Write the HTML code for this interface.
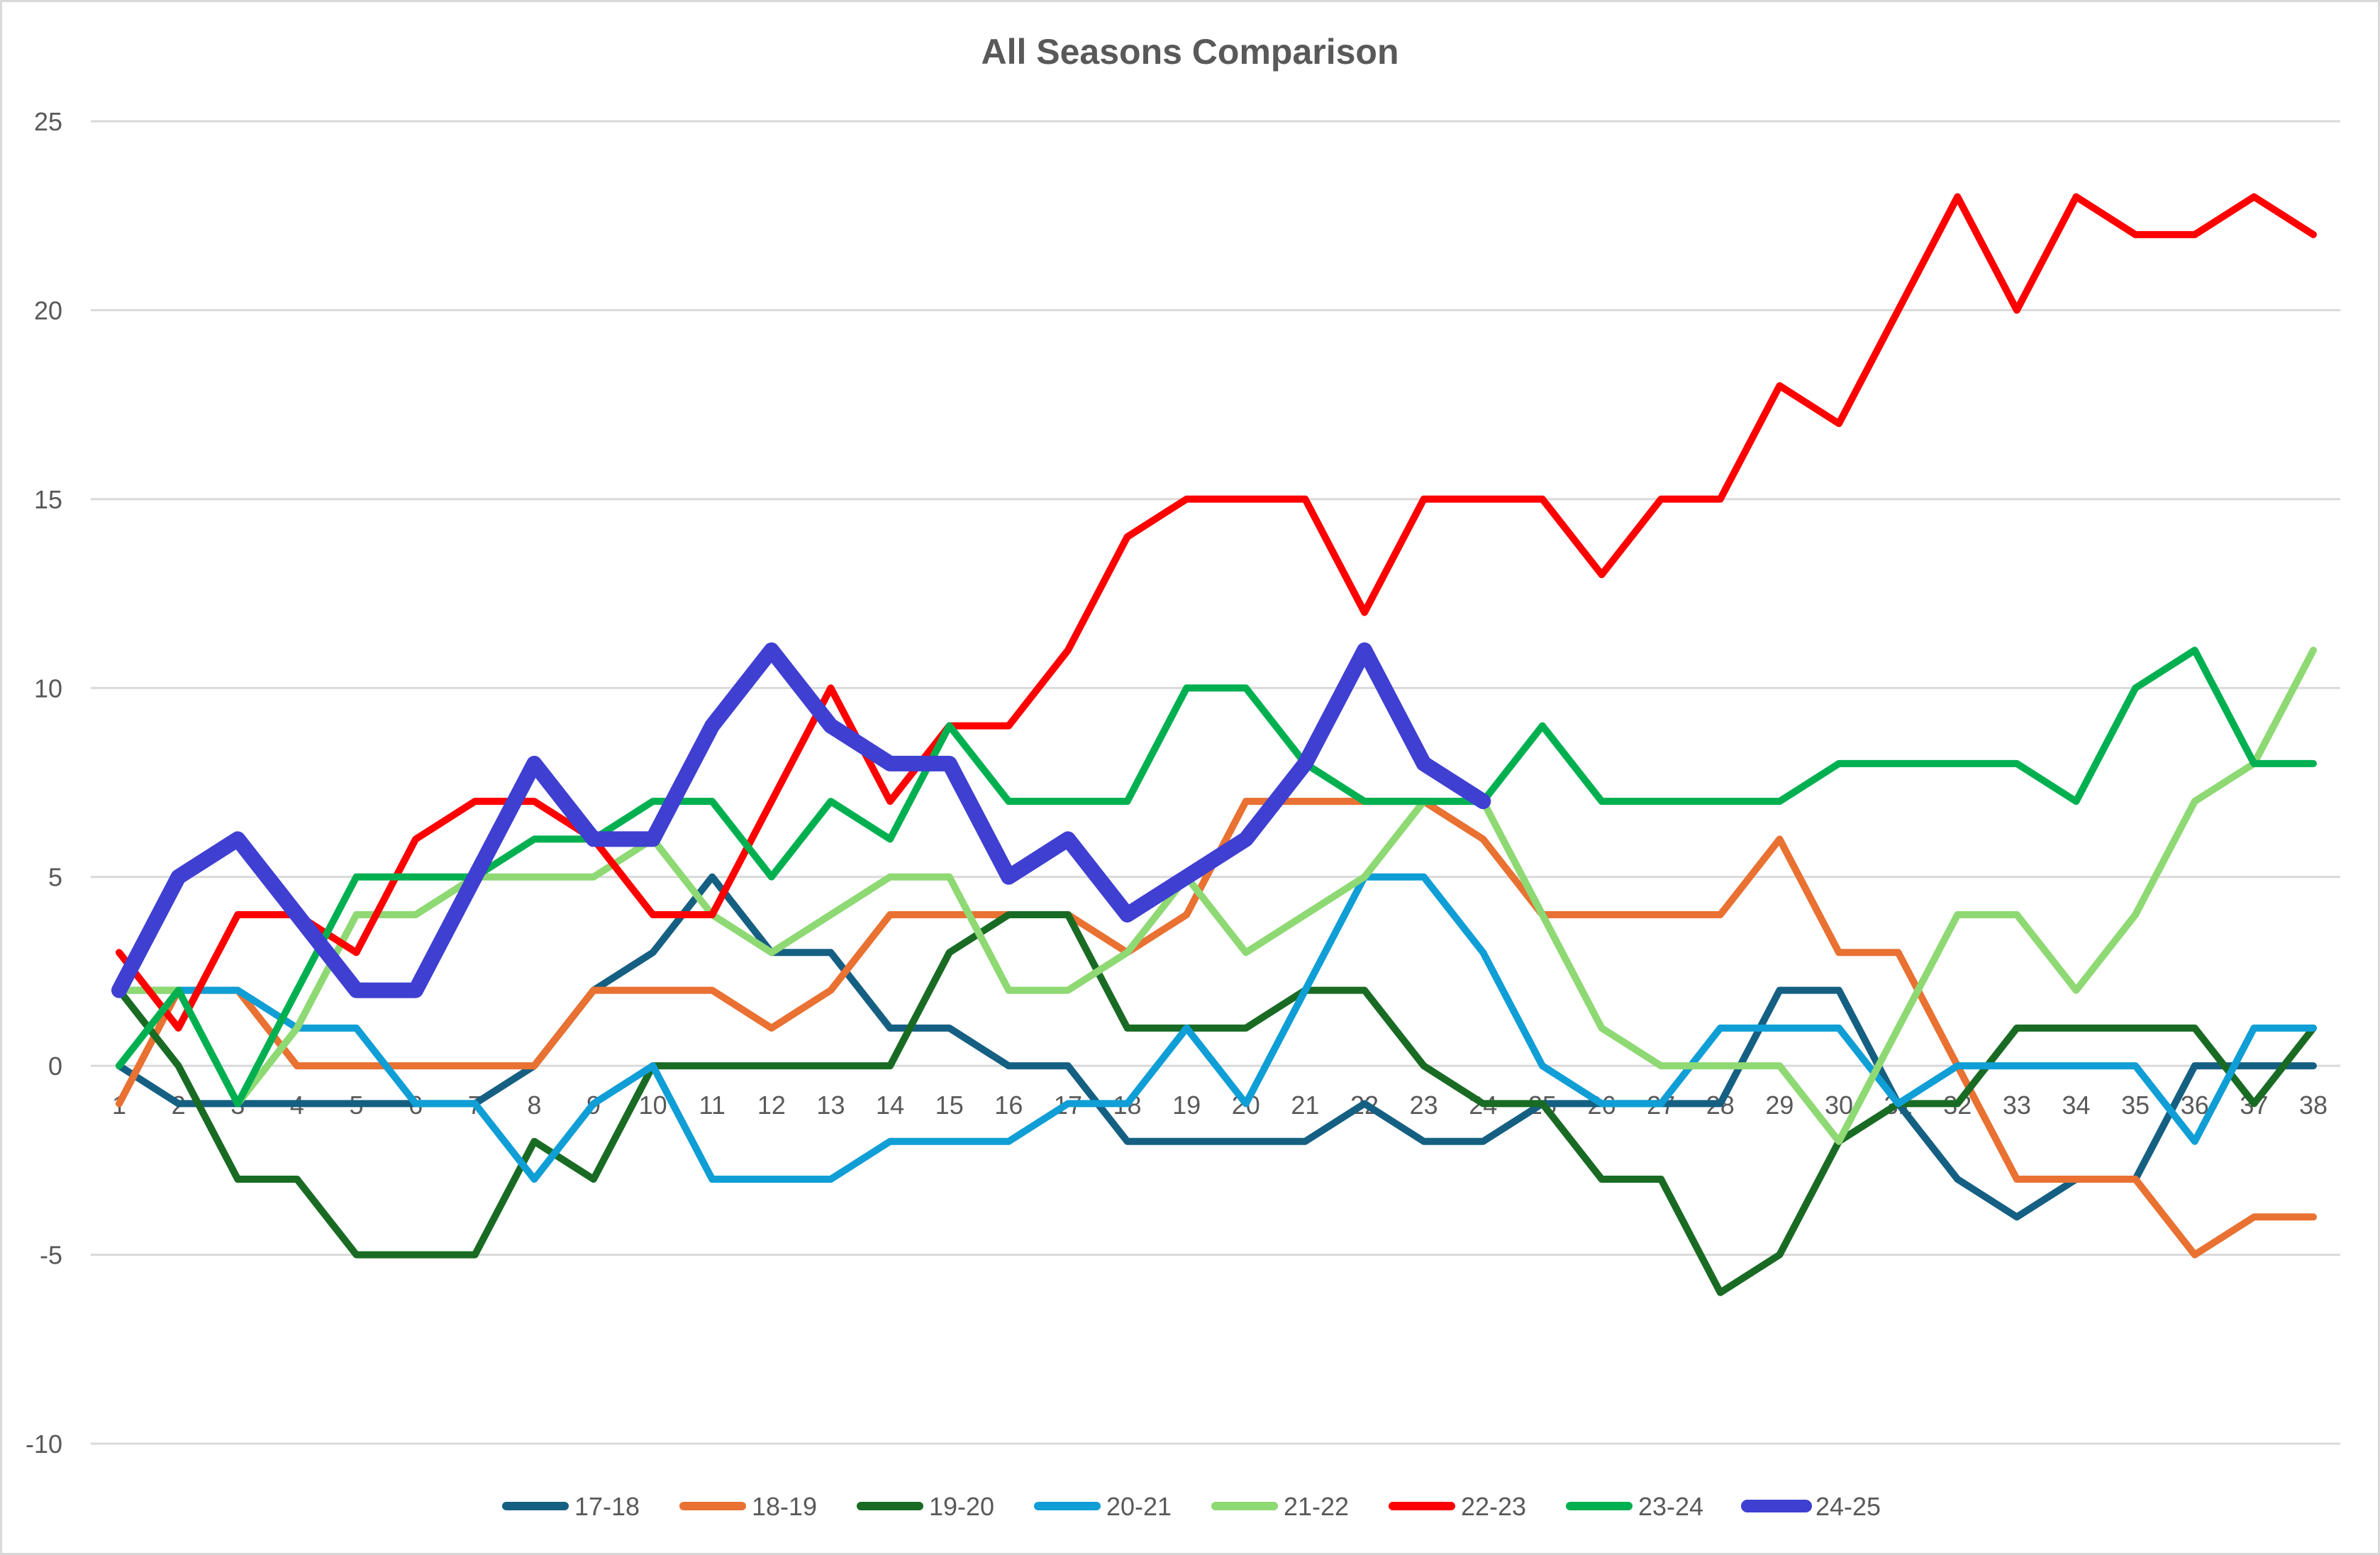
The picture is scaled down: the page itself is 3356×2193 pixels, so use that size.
<!DOCTYPE html>
<html><head><meta charset="utf-8"><style>
html,body{margin:0;padding:0;background:#fff}
svg{display:block;font-family:"Liberation Sans",Arial,sans-serif}
</style></head><body>
<svg id="chart" width="3356" height="2193" viewBox="0 0 3356 2193" xmlns="http://www.w3.org/2000/svg">
<rect x="1.5" y="1.5" width="3353" height="2190" fill="#fff" stroke="#d9d9d9" stroke-width="3"/>
<text x="1678" y="90" text-anchor="middle" font-size="50" font-weight="bold" fill="#595959">All Seasons Comparison</text>
<g id="grid"></g><g id="ylabels"></g><g id="xlabels"></g><g id="series"></g><g id="legend"></g>
</svg>
<script>
const categories=[1,2,3,4,5,6,7,8,9,10,11,12,13,14,15,16,17,18,19,20,21,22,23,24,25,26,27,28,29,30,31,32,33,34,35,36,37,38];
const yTicks=[-10,-5,0,5,10,15,20,25];
const seriesNames=["17-18","18-19","19-20","20-21","21-22","22-23","23-24","24-25"];
const s1718=[0,-1,-1,-1,-1,-1,-1,0,2,3,5,3,3,1,1,0,0,-2,-2,-2,-2,-1,-2,-2,-1,-1,-1,-1,2,2,-1,-3,-4,-3,-3,0,0,0];
const s1819=[-1,2,2,0,0,0,0,0,2,2,2,1,2,4,4,4,4,3,4,7,7,7,7,6,4,4,4,4,6,3,3,0,-3,-3,-3,-5,-4,-4];
const s1920=[2,0,-3,-3,-5,-5,-5,-2,-3,0,0,0,0,0,3,4,4,1,1,1,2,2,0,-1,-1,-3,-3,-6,-5,-2,-1,-1,1,1,1,1,-1,1];
const s2021=[2,2,2,1,1,-1,-1,-3,-1,0,-3,-3,-3,-2,-2,-2,-1,-1,1,-1,2,5,5,3,0,-1,-1,1,1,1,-1,0,0,0,0,-2,1,1];
const s2122=[2,2,-1,1,4,4,5,5,5,6,4,3,4,5,5,2,2,3,5,3,4,5,7,7,4,1,0,0,0,-2,1,4,4,2,4,7,8,11];
const s2223=[3,1,4,4,3,6,7,7,6,4,4,7,10,7,9,9,11,14,15,15,15,12,15,15,15,13,15,15,18,17,20,23,20,23,22,22,23,22];
const s2324=[0,2,-1,2,5,5,5,6,6,7,7,5,7,6,9,7,7,7,10,10,8,7,7,7,9,7,7,7,7,8,8,8,8,7,10,11,8,8];
const s2425=[2,5,6,4,2,2,5,8,6,6,9,11,9,8,8,5,6,4,5,6,8,11,8,7];
const allSeries=[s1718,s1819,s1920,s2021,s2122,s2223,s2324,s2425];
const colors=["#156082","#E97132","#196B24","#0F9ED5","#8ED973","#FF0000","#00B050","#3F3FD2"];
const widths=[10,10,10,10,10,10,10,22];
const NS="http://www.w3.org/2000/svg";
const X0=168,X1=3262,YTOP=171,YBOT=2036,VMIN=-10,VMAX=25;
function xPos(i){return X0+(X1-X0)*i/(categories.length-1);}
function yPos(v){return YBOT-(v-VMIN)*(YBOT-YTOP)/(VMAX-VMIN);}
function mk(tag,attrs,parent){const e=document.createElementNS(NS,tag);for(const k in attrs)e.setAttribute(k,attrs[k]);parent.appendChild(e);return e;}
const grid=document.getElementById('grid'),yl=document.getElementById('ylabels'),xl=document.getElementById('xlabels'),sg=document.getElementById('series'),lg=document.getElementById('legend');
yTicks.forEach(t=>{
  const l=mk('line',{x1:128,x2:3300,y1:yPos(t),y2:yPos(t),stroke:'#d9d9d9','stroke-width':3},grid);
  
  
  const tx=mk('text',{x:88,y:yPos(t)+13,'text-anchor':'end','font-size':36,fill:'#595959'},yl);
  tx.textContent=t;
  
  
});
categories.forEach((c,i)=>{
  const tx=mk('text',{x:xPos(i),y:yPos(0)+68,'text-anchor':'middle','font-size':36,fill:'#595959'},xl);
  tx.textContent=c;
  
  
});
allSeries.forEach((s,k)=>{
  const pts=s.map((v,i)=>xPos(i)+','+yPos(v)).join(' ');
  const p=mk('polyline',{points:pts,fill:'none',stroke:colors[k],'stroke-width':widths[k],'stroke-linejoin':'round','stroke-linecap':'round'},sg);
  
  
  const lx=706+k*250;
  const g=mk('g',{},lg);
  
  
  mk('line',{x1:lx+8,x2:lx+90,y1:2124,y2:2124,stroke:colors[k],'stroke-width':widths[k]===22?18:12,'stroke-linecap':'round'},g);
  const t=mk('text',{x:lx+104,y:2137,'font-size':36,fill:'#595959'},g);
  t.textContent=seriesNames[k];
});
</script>
</body></html>
